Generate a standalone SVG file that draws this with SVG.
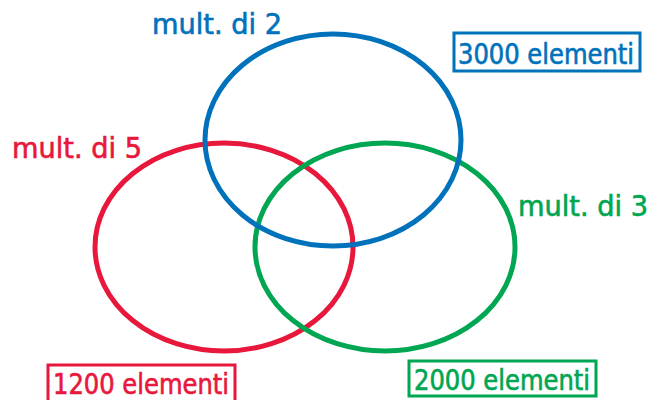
<svg xmlns="http://www.w3.org/2000/svg" width="651" height="400" viewBox="0 0 651 400">
<style>
.e{fill:none;stroke-width:5}
.t{font-family:"DejaVu Sans Condensed","Liberation Sans",sans-serif;font-size:29px;stroke-width:0.6}
.n{font-size:28px}
.b{fill:#fff;stroke-width:3}
</style>
<rect width="651" height="400" fill="#fff"/>
<g id="set5">
<ellipse class="e" cx="224" cy="247" rx="129" ry="104" stroke="#E8173C"/>
</g>
<g id="set3">
<ellipse class="e" cx="385" cy="247" rx="130" ry="104" stroke="#00A651"/>
</g>
<g id="set2">
<ellipse class="e" cx="333" cy="140" rx="128" ry="106" stroke="#0072BC"/>
</g>
<g id="label2">
<text class="t" x="152" y="34" fill="#0072BC" stroke="#0072BC" textLength="130" lengthAdjust="spacingAndGlyphs">mult. di 2</text>
<rect class="b" x="454" y="33" width="186" height="38" stroke="#0072BC"/>
<text class="t n" x="458" y="64" fill="#0072BC" stroke="#0072BC" textLength="176" lengthAdjust="spacingAndGlyphs">3000 elementi</text>
</g>
<g id="label5">
<text class="t" x="12" y="158" fill="#E8173C" stroke="#E8173C" textLength="130" lengthAdjust="spacingAndGlyphs">mult. di 5</text>
<rect class="b" x="48" y="365" width="187" height="40" stroke="#E8173C"/>
<text class="t n" x="53" y="394" fill="#E8173C" stroke="#E8173C" textLength="176" lengthAdjust="spacingAndGlyphs">1200 elementi</text>
</g>
<g id="label3">
<text class="t" x="518" y="216" fill="#00A651" stroke="#00A651" textLength="130" lengthAdjust="spacingAndGlyphs">mult. di 3</text>
<rect class="b" x="409" y="361" width="187" height="35" stroke="#00A651"/>
<text class="t n" x="414" y="390" fill="#00A651" stroke="#00A651" textLength="176" lengthAdjust="spacingAndGlyphs">2000 elementi</text>
</g>
<g id="connectors"/>
</svg>
